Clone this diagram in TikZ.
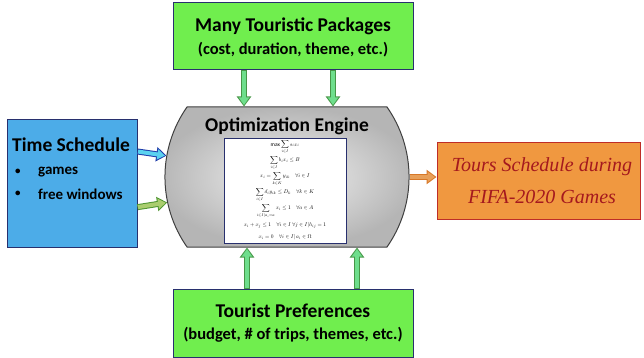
\documentclass[tikz,border=0pt]{standalone}
\usepackage{amsmath}
\usepackage{fontspec}
\setmainfont{Carlito}
\newfontfamily\outfont{Liberation Serif}
\usetikzlibrary{shapes.misc,arrows.meta,calc}
\definecolor{gfill}{RGB}{112,238,78}
\definecolor{navy}{RGB}{40,48,110}
\definecolor{bfill}{RGB}{76,172,232}
\definecolor{ofill}{RGB}{240,152,64}
\definecolor{oborder}{RGB}{190,45,40}
\definecolor{otext}{RGB}{165,25,30}
\definecolor{garrowout}{RGB}{70,150,70}
\definecolor{garrowin}{RGB}{110,222,140}
\definecolor{barrowout}{RGB}{30,60,170}
\definecolor{barrowin}{RGB}{90,210,240}
\definecolor{larrowout}{RGB}{80,150,50}
\definecolor{larrowin}{RGB}{170,205,110}
\definecolor{oarrowout}{RGB}{215,120,40}
\definecolor{oarrowin}{RGB}{232,160,90}
\begin{document}
\begin{tikzpicture}[x=1pt,y=-1pt,
  box/.style={draw=navy, line width=1pt, inner sep=0pt},
  greenbox/.style={box, fill=gfill, minimum width=240pt},
  titlefont/.style={font=\fontsize{19.5}{22}\selectfont\bfseries, inner sep=0pt},
  subfont/.style={font=\fontsize{16.5}{20}\selectfont\bfseries, inner sep=0pt},
  listfont/.style={font=\fontsize{15}{18}\selectfont\bfseries, anchor=west, inner sep=0pt},
  bulletfont/.style={font=\fontsize{11}{14}\selectfont\bfseries, anchor=west, inner sep=0pt},
  fatout/.style={line width=6pt, draw=#1, -{Triangle[length=10pt,width=14pt]}},
  fatin/.style={line width=4pt, draw=#1, -{Triangle[length=7.5pt,width=10pt]}, shorten >=1.5pt, shorten <=0.5pt},
]
\useasboundingbox (0,0) rectangle (644,358);

% boxes
\node[greenbox, minimum height=67pt] (top) at (293,36.5) {};
\node[titlefont] (toptitle) at (293,26) {Many Touristic Packages};
\node[subfont] (topsub) at (293,50) {(cost, duration, theme, etc.)};

\node[greenbox, minimum height=68pt] (bot) at (293,323) {};
\node[titlefont] (bottitle) at (293,311) {Tourist Preferences};
\node[subfont] (botsub) at (293,335) {(budget, \# of trips, themes, etc.)};

\node[box, fill=bfill, minimum width=130pt, minimum height=127pt] (blue) at (72,183.5) {};
\node[titlefont, anchor=west] (ts) at (12,145) {Time Schedule};
\node[bulletfont] (b1) at (15,172) {•};
\node[listfont] (g1) at (38,172) {games};
\node[bulletfont] (b2) at (15,194) {•};
\node[listfont] (g2) at (38,194) {free windows};

\node[draw=oborder, line width=1pt, fill=ofill, minimum width=203pt, minimum height=76pt, inner sep=0pt] (out) at (538.5,181) {};
\node[text=otext, font=\outfont\itshape\fontsize{20}{24}\selectfont, inner sep=0pt] (o1) at (542,167) {Tours Schedule during};
\node[text=otext, font=\outfont\itshape\fontsize{20}{24}\selectfont, inner sep=0pt] (o2) at (542,197) {FIFA-2020 Games};

\node[rounded rectangle, rounded rectangle arc length=70, draw=black!75, line width=1pt,
      inner color=gray!10, outer color=gray!58, minimum width=220pt, minimum height=140pt] (engine) at (287,177) {};
\node[titlefont] (et) at (287,126) {Optimization Engine};
\node[draw=navy, line width=0.9pt, fill=white, minimum width=122pt, minimum height=105pt, inner sep=0pt] (eqbox) at (285,190.5) {};
\node[inner sep=0pt] (eqs) at (eqbox.center) {\scalebox{0.55}{$\begin{gathered}
  \max\sum_{i\in I} s_i x_i\\[1pt]
  \sum_{i\in I} b_i x_i \le B\\[1pt]
  x_i=\sum_{k\in K} y_{ik}\quad \forall i\in I\\[1pt]
  \sum_{i\in I} d_i y_{ik}\le D_k\quad \forall k\in K\\[1pt]
  \sum_{i\in I|a_i=a} x_i\le 1\quad \forall a\in A\\[3pt]
  x_i+x_j\le 1\quad \forall i\in I\ \forall j\in I|h_{ij}=1\\[7pt]
  x_i=0\quad \forall i\in I|\,a_i\in\Omega
  \end{gathered}$}};

% arrow positions
\coordinate (t1) at (244,0);
\coordinate (t2) at (333,0);
\coordinate (u1) at (247,0);
\coordinate (u2) at (357,0);
\coordinate (l1) at ($(blue.north east)!0.25!(blue.south east)$);
\coordinate (l2) at ($(blue.north east)!0.685!(blue.south east)$);

% top arrows
\foreach \c in {t1,t2}{
  \draw[fatout=garrowout] (\c |- top.south) -- (\c |- engine.north);
  \draw[fatin=garrowin] (\c |- top.south) -- (\c |- engine.north);
}
% bottom arrows
\foreach \c in {u1,u2}{
  \draw[fatout=garrowout] (\c |- bot.north) -- (\c |- engine.south);
  \draw[fatin=garrowin] (\c |- bot.north) -- (\c |- engine.south);
}
% left arrows
\draw[fatout=barrowout] (l1) -- (engine.170);
\draw[fatin=barrowin] (l1) -- (engine.170);
\draw[fatout=larrowout] (l2) -- (engine.192);
\draw[fatin=larrowin] (l2) -- (engine.192);
% right arrow
\draw[fatout=oarrowout] (engine.east) -- (engine.east -| out.west);
\draw[fatin=oarrowin] (engine.east) -- (engine.east -| out.west);
\end{tikzpicture}
\end{document}
